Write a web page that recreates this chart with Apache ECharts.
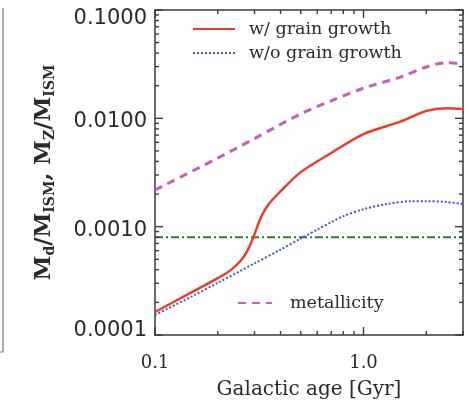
<!DOCTYPE html>
<html>
<head>
<meta charset="utf-8">
<script src="https://cdn.jsdelivr.net/npm/echarts@6/dist/echarts.min.js"></script>
<style>
  html, body { margin: 0; padding: 0; background: #fff; }
  #chart { width: 469px; height: 406px; }
</style>
</head>
<body>
<div id="chart"></div>
<script>
// galactic age [Gyr] and dust / metal mass fractions
const withAge = [0.1, 0.13, 0.16, 0.2, 0.23, 0.26, 0.28, 0.3, 0.32, 0.35, 0.4, 0.5, 0.7, 1.0, 1.5, 2.0, 2.5, 3.0];
const withGrowth = [0.000163, 0.000214, 0.000265, 0.000335, 0.000395, 0.000495, 0.00062, 0.00085, 0.00118, 0.0016, 0.00212, 0.00319, 0.00479, 0.00716, 0.0093, 0.0117, 0.0124, 0.0122];

const withoutAge = [0.1, 0.15, 0.2, 0.3, 0.4, 0.5, 0.6, 0.7, 0.8, 1.0, 1.3, 1.7, 2.0, 2.5, 3.0];
const withoutGrowth = [0.000153, 0.000227, 0.000303, 0.000458, 0.000613, 0.000777, 0.00094, 0.0011, 0.00125, 0.00145, 0.00162, 0.00172, 0.00172, 0.00169, 0.00162];

const metalAge = [0.1, 0.2, 0.3, 0.5, 0.7, 1.0, 1.5, 2.0, 2.5, 3.0];
const metallicity = [0.00218, 0.0043, 0.0065, 0.011, 0.0145, 0.019, 0.024, 0.0298, 0.0326, 0.0318];

const thresholdAge = [0.1, 3.0];
const threshold = [0.0008, 0.0008];

// axis ranges and tick values
const xMin = 0.1, xMax = 3.0;
const yMin = 0.0001, yMax = 0.1;
const xMajorTicks = [0.1, 1];
const xMinorTicks = [0.2, 0.3, 0.4, 0.5, 0.6, 0.7, 0.8, 0.9, 2, 3];
const yMajorTicks = [0.0001, 0.001, 0.01, 0.1];
const yMinorTicks = [0.0002, 0.0003, 0.0004, 0.0005, 0.0006, 0.0007, 0.0008, 0.0009,
  0.002, 0.003, 0.004, 0.005, 0.006, 0.007, 0.008, 0.009,
  0.02, 0.03, 0.04, 0.05, 0.06, 0.07, 0.08, 0.09];

const zip = (xs, ys) => xs.map((x, i) => [x, ys[i]]);

const chart = echarts.init(document.getElementById("chart"));

const axisColor = "#3a3a3a";
const textColor = "#2a2a2a";
const serif = "'DejaVu Serif', 'Liberation Serif', serif";

// ticks on all four sides, placed through the axes' own scales
function tickX(params, api) {
  const v = api.value(0);
  const len = api.value(2);
  const b = api.coord([v, yMin]);
  const t = api.coord([v, yMax]);
  const style = { stroke: axisColor, lineWidth: 1.4 };
  return {
    type: "group",
    children: [
      { type: "line", shape: { x1: b[0], y1: b[1], x2: b[0], y2: b[1] - len }, style },
      { type: "line", shape: { x1: t[0], y1: t[1], x2: t[0], y2: t[1] + len }, style },
    ],
  };
}
function tickY(params, api) {
  const v = api.value(1);
  const len = api.value(2);
  const l = api.coord([xMin, v]);
  const r = api.coord([xMax, v]);
  const style = { stroke: axisColor, lineWidth: 1.4 };
  return {
    type: "group",
    children: [
      { type: "line", shape: { x1: l[0], y1: l[1], x2: l[0] + len, y2: l[1] }, style },
      { type: "line", shape: { x1: r[0], y1: r[1], x2: r[0] - len, y2: r[1] }, style },
    ],
  };
}

const baseX = {
  type: "log",
  logBase: 10,
  min: xMin,
  max: xMax,
  axisLine: { show: true, lineStyle: { color: axisColor, width: 1.5 } },
  axisTick: { show: false },
  splitLine: { show: false },
  minorTick: { show: false },
};
const baseY = {
  type: "log",
  logBase: 10,
  min: yMin,
  max: yMax,
  axisLine: { show: true, lineStyle: { color: axisColor, width: 1.5 } },
  axisTick: { show: false },
  splitLine: { show: false },
  minorTick: { show: false },
};

const lineDefaults = {
  type: "line",
  showSymbol: false,
  symbol: "none",
  smooth: 0.3,
};

const option = {
  animation: false,
  backgroundColor: "#fff",
  grid: {
    left: 155,
    top: 10,
    right: 6,
    bottom: 71,
    containLabel: false,
    outerBoundsMode: "none",
  },
  legend: [
    {
      data: ["w/ grain growth", "w/o grain growth"],
      orient: "vertical",
      left: 187,
      top: 15,
      itemWidth: 42,
      itemHeight: 12,
      itemGap: 6,
      selectedMode: false,
      itemStyle: { opacity: 0 },
      textStyle: { fontFamily: serif, fontSize: 17.5, color: textColor, padding: [0, 0, 0, 9] },
    },
    {
      data: ["metallicity"],
      left: 232,
      top: 289,
      itemWidth: 34,
      itemHeight: 12,
      selectedMode: false,
      itemStyle: { opacity: 0 },
      textStyle: { fontFamily: serif, fontSize: 17.5, color: textColor, padding: [0, 0, 0, 13] },
    },
  ],
  xAxis: [
    Object.assign({}, baseX, {
      position: "bottom",
      name: "Galactic age [Gyr]",
      nameLocation: "middle",
      nameGap: 45,
      nameTextStyle: { fontFamily: serif, fontSize: 20, color: textColor },
      axisLabel: {
        margin: 19,
        fontFamily: serif,
        fontSize: 18,
        color: textColor,
        showMaxLabel: false,
        formatter: (v) => Number(v).toFixed(1),
      },
    }),
    Object.assign({}, baseX, {
      position: "top",
      axisLabel: { show: false },
    }),
  ],
  yAxis: [
    Object.assign({}, baseY, {
      position: "left",
      name: "{m|M}{s|d}{m|/M}{s|ISM}{m|, M}{s|Z}{m|/M}{s|ISM}",
      nameLocation: "middle",
      nameRotate: 90,
      nameGap: 98,
      nameTextStyle: {
        fontFamily: serif,
        color: textColor,
        rich: {
          m: { fontFamily: serif, fontSize: 22.5, fontWeight: "bold", color: textColor, lineHeight: 25 },
          s: { fontFamily: serif, fontSize: 14, fontWeight: "bold", color: textColor, verticalAlign: "bottom", lineHeight: 17, padding: [9, 0, 0, 0] },
        },
      },
      axisLabel: {
        margin: 8,
        fontFamily: "'DejaVu Sans', sans-serif",
        fontSize: 21,
        color: textColor,
        formatter: (v) => {
          const s = Number(v).toFixed(4);
          if (Number(v) > 0.05) return "{top|" + s + "}";
          if (Number(v) < 0.0002) return "{bot|" + s + "}";
          return "{mid|" + s + "}";
        },
        rich: {
          top: { fontFamily: "'DejaVu Sans', sans-serif", fontSize: 21, color: textColor, padding: [18, 0, 0, 0] },
          mid: { fontFamily: "'DejaVu Sans', sans-serif", fontSize: 21, color: textColor, padding: [7, 0, 0, 0] },
          bot: { fontFamily: "'DejaVu Sans', sans-serif", fontSize: 21, color: textColor, padding: [0, 0, 8, 0] },
        },
      },
    }),
    Object.assign({}, baseY, {
      position: "right",
      axisLabel: { show: false },
    }),
  ],
  graphic: [
    {
      // edge of the neighbouring panel on the left
      type: "polyline",
      shape: { points: [[3, 8], [3, 352], [0, 352]] },
      style: { stroke: "#777", lineWidth: 1.2, fill: null },
    },
  ],
  series: [
    Object.assign({}, lineDefaults, {
      name: "w/ grain growth",
      data: zip(withAge, withGrowth),
      lineStyle: { color: "#ec3b24", width: 2.4 },
      itemStyle: { color: "#ec3b24" },
      z: 5,
    }),
    Object.assign({}, lineDefaults, {
      name: "w/o grain growth",
      data: zip(withoutAge, withoutGrowth),
      lineStyle: { color: "#3f55c8", width: 2, type: [2, 2] },
      itemStyle: { color: "#3f55c8" },
      z: 4,
    }),
    Object.assign({}, lineDefaults, {
      name: "metallicity",
      data: zip(metalAge, metallicity),
      lineStyle: { color: "#c65fb2", width: 3, type: [8, 6] },
      itemStyle: { color: "#c65fb2" },
      z: 4,
    }),
    Object.assign({}, lineDefaults, {
      name: "threshold",
      data: zip(thresholdAge, threshold),
      smooth: false,
      lineStyle: { color: "#2e7d2a", width: 2, type: [8, 3, 2, 3] },
      z: 3,
    }),
    {
      name: "xticks",
      type: "custom",
      renderItem: tickX,
      data: xMajorTicks.map((v) => [v, yMin, 8]).concat(xMinorTicks.map((v) => [v, yMin, 4])),
      clip: false,
      silent: true,
      z: 10,
    },
    {
      name: "yticks",
      type: "custom",
      renderItem: tickY,
      data: yMajorTicks.map((v) => [xMin, v, 8]).concat(yMinorTicks.map((v) => [xMin, v, 4])),
      clip: false,
      silent: true,
      z: 10,
    },
  ],
};

chart.setOption(option);
</script>
</body>
</html>
